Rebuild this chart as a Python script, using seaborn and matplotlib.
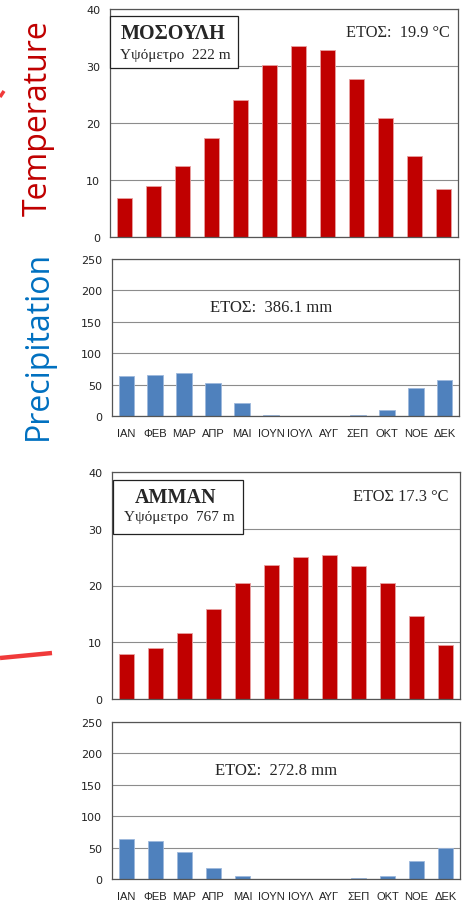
import matplotlib
matplotlib.use("Agg")
import matplotlib.pyplot as plt
import seaborn as sns
import numpy as np
from matplotlib.lines import Line2D
from matplotlib.patches import Rectangle

months = ["ΙΑΝ", "ΦΕΒ", "ΜΑΡ", "ΑΠΡ", "ΜΑΙ", "ΙΟΥΝ", "ΙΟΥΛ", "ΑΥΓ", "ΣΕΠ", "ΟΚΤ", "ΝΟΕ", "ΔΕΚ"]

# Mosul
mosul_temp = [6.9, 8.9, 12.5, 17.4, 24.1, 30.1, 33.5, 32.8, 27.8, 20.9, 14.2, 8.4]
mosul_prec = [63, 66, 69, 53, 20, 2, 0, 0, 2, 10, 44, 58]

# Amman
amman_temp = [7.9, 9.0, 11.6, 15.9, 20.5, 23.6, 25.1, 25.3, 23.5, 20.4, 14.7, 9.5]
amman_prec = [63, 61, 43, 17, 4, 0, 0, 0, 2, 5, 29, 49]

TEMP_COLOR = "#C00000"
PREC_COLOR = "#4F81BD"
SERIF = "Liberation Serif"

sns.set_style("white")
plt.rcParams['font.family'] = ['Liberation Sans', 'DejaVu Sans']


def draw_bars(ax, values, color, ymax, step, show_labels):
    sns.barplot(x=months, y=values, color=color, saturation=1, width=0.55,
                errorbar=None, ax=ax, edgecolor="#e8a0a0" if color == TEMP_COLOR else "#9db8dc",
                linewidth=0.6)
    ax.set_xlim(-0.5, 11.5)
    ax.set_ylim(0, ymax)
    ax.set_yticks(np.arange(0, ymax + 1, step))
    ax.yaxis.grid(True, color="#8c8c8c", linewidth=0.8)
    ax.set_axisbelow(True)
    for sp in ax.spines.values():
        sp.set_color("#555555")
        sp.set_linewidth(0.9)
    ax.set_xlabel("")
    ax.set_ylabel("")
    ax.set_xticks(np.arange(12))
    ax.set_xticks(np.arange(-0.5, 12, 1), minor=True)
    ax.tick_params(axis="x", which="major", length=0, pad=9, labelsize=8, colors="#222222")
    ax.tick_params(axis="x", which="minor", length=4, width=0.8, color="#555555", direction="out")
    ax.tick_params(axis="y", length=4, width=0.8, color="#555555", direction="out",
                   labelsize=8, labelcolor="#222222", pad=3)
    for lab in ax.get_yticklabels():
        lab.set_family("DejaVu Sans")
    if not show_labels:
        ax.set_xticklabels([""] * 12)


fig = plt.figure(figsize=(4.65, 9.04), dpi=100)

ax1 = fig.add_axes([110 / 465, (904 - 238) / 904, 348 / 465, 228 / 904])
ax2 = fig.add_axes([112 / 465, (904 - 417) / 904, 347 / 465, 157 / 904])
ax3 = fig.add_axes([112 / 465, (904 - 700) / 904, 348 / 465, 227 / 904])
ax4 = fig.add_axes([112 / 465, (904 - 880) / 904, 348 / 465, 157 / 904])

draw_bars(ax1, mosul_temp, TEMP_COLOR, 40, 10, False)
draw_bars(ax2, mosul_prec, PREC_COLOR, 250, 50, True)
draw_bars(ax3, amman_temp, TEMP_COLOR, 40, 10, False)
draw_bars(ax4, amman_prec, PREC_COLOR, 250, 50, True)

# station boxes
ax1.add_patch(Rectangle((0, 0.741), 0.368, 0.228, transform=ax1.transAxes,
                        facecolor="white", edgecolor="#222222", linewidth=0.9, zorder=5, clip_on=False))
ax1.text(0.181, 0.893, "ΜΟΣΟΥΛΗ", transform=ax1.transAxes, ha="center", va="center",
         family=SERIF, fontweight="bold", fontsize=14.5, zorder=6)
ax1.text(0.187, 0.800, "Υψόμετρο  222 m", transform=ax1.transAxes, ha="center", va="center",
         family=SERIF, fontsize=11, zorder=6)
ax1.text(0.977, 0.899, "ΕΤΟΣ:  19.9 °C", transform=ax1.transAxes, ha="right", va="center",
         family=SERIF, fontsize=11.8)

ax3.add_patch(Rectangle((0.003, 0.727), 0.373, 0.238, transform=ax3.transAxes,
                        facecolor="white", edgecolor="#222222", linewidth=0.9, zorder=5, clip_on=False))
ax3.text(0.184, 0.892, "ΑΜΜΑΝ", transform=ax3.transAxes, ha="center", va="center",
         family=SERIF, fontweight="bold", fontsize=14.5, zorder=6)
ax3.text(0.193, 0.803, "Υψόμετρο  767 m", transform=ax3.transAxes, ha="center", va="center",
         family=SERIF, fontsize=11, zorder=6)
ax3.text(0.968, 0.894, "ΕΤΟΣ 17.3 °C", transform=ax3.transAxes, ha="right", va="center",
         family=SERIF, fontsize=11.8)

ax2.text(0.458, 0.694, "ΕΤΟΣ:  386.1 mm", transform=ax2.transAxes, ha="center", va="center",
         family=SERIF, fontsize=12)
ax4.text(0.471, 0.694, "ΕΤΟΣ:  272.8 mm", transform=ax4.transAxes, ha="center", va="center",
         family=SERIF, fontsize=12)

# side labels
fig.text(38 / 465, (904 - 118) / 904, "Temperature", rotation=90, ha="center", va="center",
         color="#C00000", fontsize=23, family=["Open Sans", "DejaVu Sans"])
fig.text(38 / 465, (904 - 345) / 904, "Precipitation", rotation=90, ha="center", va="center",
         color="#0070C0", fontsize=23, family=["Open Sans", "DejaVu Sans"])

# red annotation strokes
fig.add_artist(Line2D([0 / 465, 52 / 465], [(904 - 659) / 904, (904 - 654) / 904],
                      transform=fig.transFigure, color="#F03A3A", linewidth=3.2, solid_capstyle="butt"))
fig.add_artist(Line2D([0 / 465, 4 / 465], [(904 - 98) / 904, (904 - 92) / 904],
                      transform=fig.transFigure, color="#F03A3A", linewidth=2.5, solid_capstyle="butt"))

fig.savefig("out.png", dpi=100)
